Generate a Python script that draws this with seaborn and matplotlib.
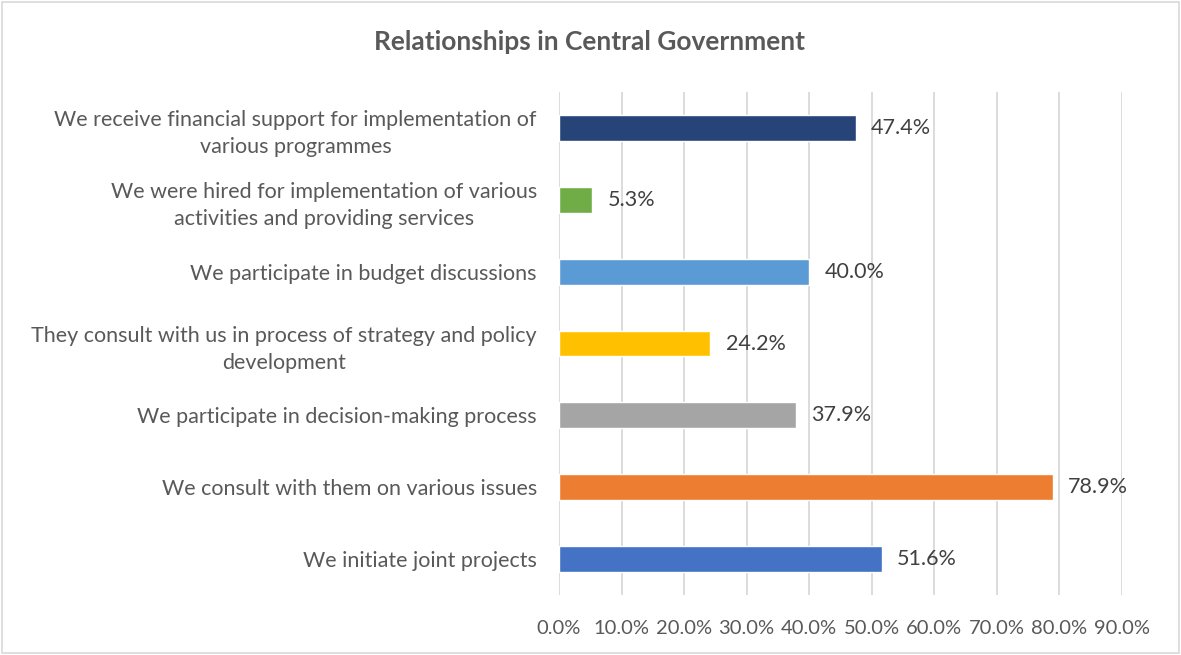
import matplotlib
matplotlib.use("Agg")
import matplotlib.pyplot as plt
import seaborn as sns
import pandas as pd
from matplotlib.patches import Rectangle

categories = [
    "We receive financial support for implementation of\nvarious programmes",
    "We were hired for implementation of various\nactivities and providing services",
    "We participate in budget discussions",
    "They consult with us in process of strategy and policy\ndevelopment",
    "We participate in decision-making process",
    "We consult with them on various issues",
    "We initiate joint projects",
]
values = [47.4, 5.3, 40.0, 24.2, 37.9, 78.9, 51.6]
colors = ["#264478", "#70AD47", "#5B9BD5", "#FFC000", "#A5A5A5", "#ED7D31", "#4472C4"]
xticks = [0, 10, 20, 30, 40, 50, 60, 70, 80, 90]
title = "Relationships in Central Government"

sns.set_theme(style="white")
plt.rcParams["font.family"] = ["Lato", "DejaVu Sans"]

df = pd.DataFrame({"category": categories, "value": values})

fig = plt.figure(figsize=(11.81, 6.55), dpi=100)
ax = fig.add_axes([559 / 1181, 1 - 595 / 655, (1122 - 559) / 1181, (595 - 92) / 655])

sns.barplot(data=df, x="value", y="category", hue="category",
            palette=dict(zip(categories, colors)), orient="h",
            width=0.36, legend=False, ax=ax, saturation=1)

ax.set_xlim(0, 90)
ax.set_xticks(xticks)
ax.set_xticklabels([f"{t:.1f}%" for t in xticks], fontsize=14.5, color="#595959")
ax.set_xlabel("")
ax.set_ylabel("")
ax.grid(axis="x", color="#D9D9D9", linewidth=1.3)
ax.set_axisbelow(True)
for s in ax.spines.values():
    s.set_visible(False)
ax.tick_params(axis="x", length=0, pad=18)
ax.tick_params(axis="y", length=0, pad=16)
for lbl in ax.get_yticklabels():
    lbl.set_fontsize(15.5)
    lbl.set_color("#595959")
    lbl.set_multialignment("center")
    lbl.set_linespacing(1.45)

for i, v in enumerate(values):
    ax.annotate(f"{v:.1f}%", xy=(v, i), xytext=(11, 0), textcoords="offset points",
                va="center", ha="left", fontsize=15.5, color="#404040")

fig.text(590 / 1181, 1 - 42 / 655, title, ha="center", va="center",
         fontsize=19, fontweight="bold", color="#595959")

fig.patches.append(Rectangle((0.002, 0.003), 0.996, 0.994, transform=fig.transFigure,
                             fill=False, edgecolor="#D9D9D9", linewidth=1.2))

fig.savefig("out.png", dpi=100)
